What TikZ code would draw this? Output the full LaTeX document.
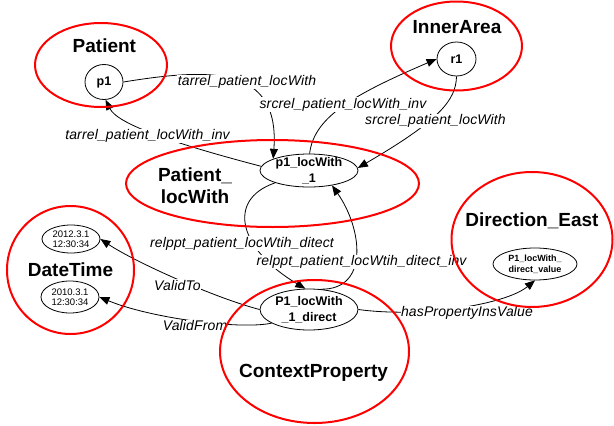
\documentclass[tikz,border=0pt]{standalone}
\usepackage{fontspec}
\setmainfont{Liberation Sans}
\usetikzlibrary{shapes.geometric,arrows.meta}
\begin{document}
\begin{tikzpicture}[x=1pt,y=-1pt,
    classarea/.style={draw=red,line width=2pt,ellipse,inner sep=0pt},
    classname/.style={font=\fontsize{19}{21.5}\selectfont\bfseries,anchor=base,inner sep=0pt},
    instance/.style={draw,ellipse,line width=0.8pt,inner sep=0pt},
    insttext/.style={align=center,inner sep=0pt,font=\fontsize{12.5}{15.5}\selectfont\bfseries},
    datetext/.style={align=center,inner sep=0pt,font=\fontsize{9.5}{10.5}\selectfont},
    valuetext/.style={align=center,inner sep=0pt,font=\fontsize{9}{11}\selectfont\bfseries},
    relation/.style={line width=0.8pt,-{Triangle[length=10pt,width=8pt]}},
    rellabel/.style={fill=white,inner sep=0.5pt,font=\fontsize{14}{16}\selectfont\itshape\addfontfeature{LetterSpace=1}}]
    \useasboundingbox (0,0) rectangle (614,426);
    \node[classname] (patientName) at (104.4,52.3) {Patient};
    \node[classname] (innerName) at (457,33.3) {InnerArea};
    \node[classname,anchor=center,align=center] (locWithName) at (195,185.5) {Patient\_\\locWith};
    \node[classname] (dateName) at (70.5,276) {DateTime};
    \node[classname] (contextName) at (313.5,377) {ContextProperty};
    \node[classname] (directionName) at (532,226) {Direction\_East};
    \node[instance,minimum width=38pt,minimum height=35pt,label={[insttext]center:p1}] (p1) at (104,82) {};
    \node[instance,minimum width=39pt,minimum height=34pt,label={[insttext]center:r1}] (r1) at (456.5,59) {};
    \node[instance,minimum width=98pt,minimum height=33pt,label={[insttext]center:p1\_locWith\\\_1}] (locwith) at (309,170.5) {};
    \node[instance,minimum width=98pt,minimum height=41pt,label={[insttext]center:P1\_locWith\\\_1\_direct}] (direct) at (309,309.5) {};
    \node[instance,minimum width=58pt,minimum height=28pt,label={[datetext]center:2012.3.1\\12:30:34}] (date1) at (71,239) {};
    \node[instance,minimum width=58pt,minimum height=32pt,label={[datetext]center:2010.3.1\\12:30:34}] (date2) at (70,297) {};
    \node[instance,minimum width=84pt,minimum height=32pt,label={[valuetext]center:P1\_locWith\_\\direct\_value}] (value) at (535,264) {};
    \draw[relation] (p1.east) .. controls (210,68) and (280,65) .. (locwith.162);
    \draw[relation] (locwith.175) .. controls (180,145) and (118,125) .. (p1.-85);
    \draw[relation] (locwith.88) .. controls (314,118) and (350,96) .. (r1.180);
    \draw[relation] (r1.-90) .. controls (456,100) and (440,120) .. (locwith.3);
    \draw[relation] (locwith.200) .. controls (225,200) and (240,250) .. (direct.100);
    \draw[relation] (direct.60) .. controls (370,290) and (362,228) .. (locwith.-33);
    \draw[relation] (direct.180) .. controls (215,298) and (135,262) .. (date1.east);
    \draw[relation] (direct.200) .. controls (240,330) and (150,318) .. (date2.east);
    \draw[relation] (direct.east) .. controls (420,318) and (505,305) .. (value.south);
    \node[rellabel] (tarrelLbl) at (247,82) {tarrel\_patient\_locWith};
    \node[rellabel] (tarrelInvLbl) at (147.5,136) {tarrel\_patient\_locWith\_inv};
    \node[rellabel] (srcrelInvLbl) at (343,104.5) {srcrel\_patient\_locWith\_inv};
    \node[rellabel] (srcrelLbl) at (435.5,121) {srcrel\_patient\_locWith};
    \node[rellabel] (relpptLbl) at (242,243.5) {relppt\_patient\_locWtih\_ditect};
    \node[rellabel] (relpptInvLbl) at (361.5,262) {relppt\_patient\_locWtih\_ditect\_inv};
    \node[rellabel] (validToLbl) at (177.5,285) {ValidTo};
    \node[rellabel] (validFromLbl) at (195,325.5) {ValidFrom};
    \node[rellabel] (hasValueLbl) at (467,313) {hasPropertyInsValue};
    \node[classarea,minimum width=132pt,minimum height=84pt] (patientArea) at (101,65) {};
    \node[classarea,minimum width=131pt,minimum height=89pt] (innerArea) at (456.5,46) {};
    \node[classarea,minimum width=293pt,minimum height=87pt] (locWithArea) at (272.5,183.5) {};
    \node[classarea,minimum width=127pt,minimum height=128pt] (dateArea) at (70.5,270) {};
    \node[classarea,minimum width=189pt,minimum height=143pt] (contextArea) at (314.5,351.5) {};
    \node[classarea,minimum width=161pt,minimum height=135pt] (directionArea) at (532,239.5) {};
\end{tikzpicture}
\end{document}
